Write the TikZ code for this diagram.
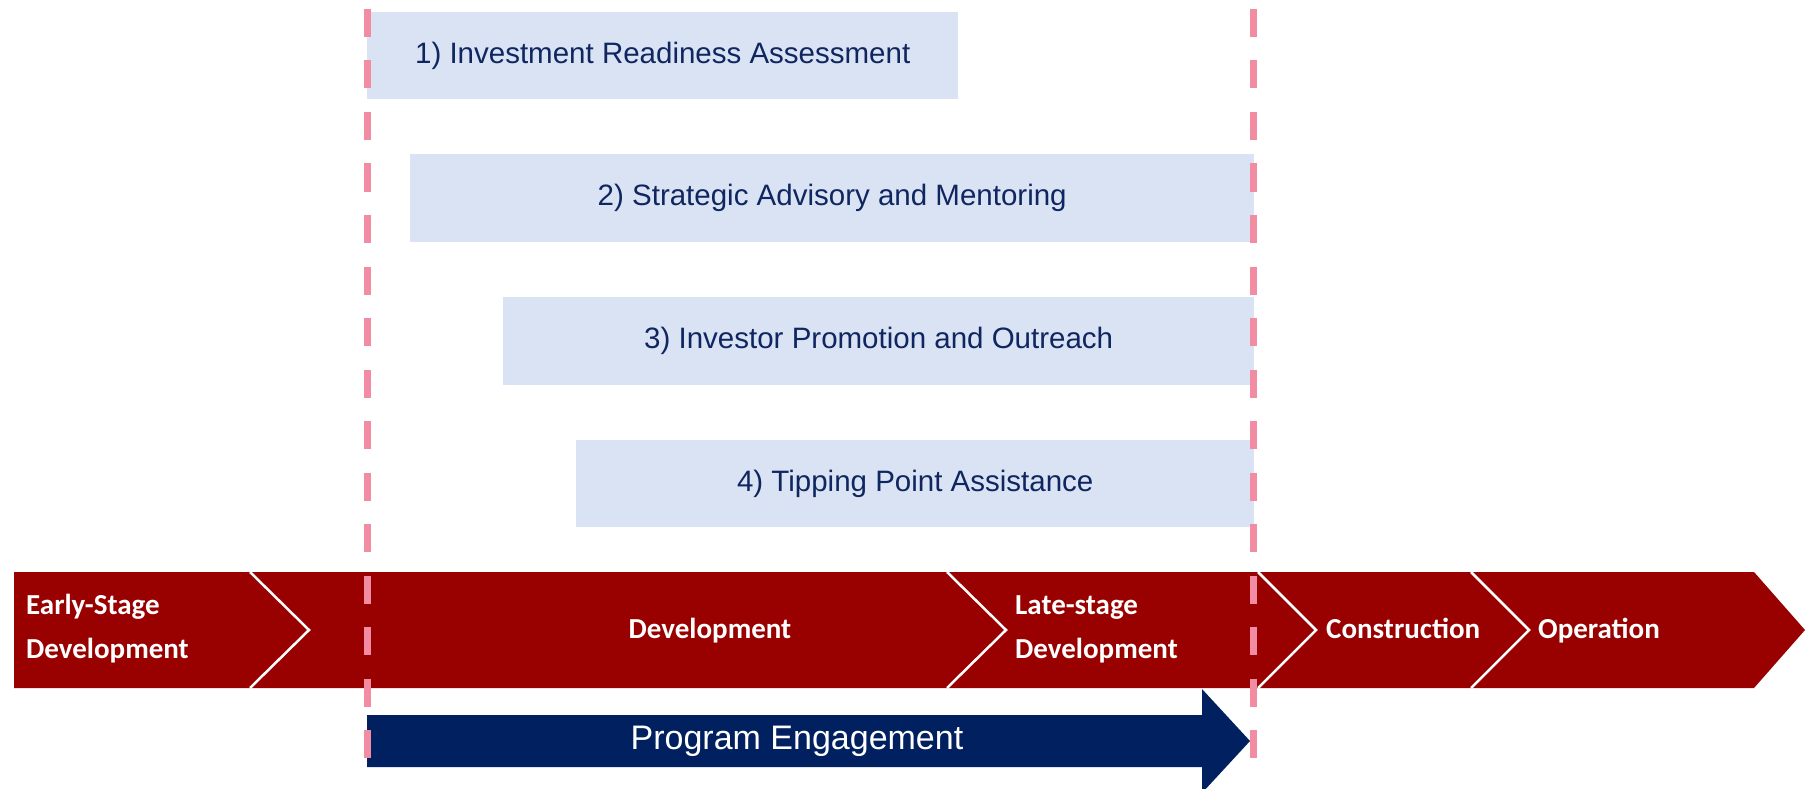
\documentclass[tikz,border=0pt]{standalone}
\usepackage{fontspec}
\setmainfont{Liberation Sans}
\newfontfamily\calib{Carlito}
\definecolor{barred}{RGB}{153,0,0}
\definecolor{boxfill}{RGB}{218,227,243}
\definecolor{boxtext}{RGB}{16,38,96}
\definecolor{navy}{RGB}{0,32,96}
\definecolor{pinkdash}{RGB}{242,140,163}
\begin{document}
\begin{tikzpicture}[x=1pt,y=-1pt,
 box/.style={fill=boxfill, anchor=north west, inner sep=0pt, minimum height=87.5pt, text=boxtext, font=\fontsize{29.5}{36}\selectfont},
 stagetext/.style={text=white, font=\calib\bfseries\fontsize{29}{44}\selectfont, align=left, inner sep=0pt, anchor=west},
 chevline/.style={draw=white, line width=2.5pt},
 guide/.style={draw=pinkdash, line width=7pt, dash pattern=on 28pt off 23.5pt}
]
\useasboundingbox (0,0) rectangle (1805,789);
% boxes
\node[box, minimum width=591pt] (b1) at (367,11.5) {1) Investment Readiness Assessment};
\node[box, minimum width=844pt] (b2) at (410,154) {2) Strategic Advisory and Mentoring};
\node[box, minimum width=751pt] (b3) at (503,297) {3) Investor Promotion and Outreach};
\node[box, minimum width=678pt] (b4) at (576,439.5) {4) Tipping Point Assistance};
% stage bar
\fill[barred] (14,572) -- (1754,572) -- (1805,630) -- (1754,688) -- (14,688) -- cycle;
\draw[chevline] (250,572) -- (309,630) -- (250,688);
\draw[chevline] (947,572) -- (1006,630) -- (947,688);
\draw[chevline] (1258,572) -- (1316,630) -- (1258,688);
\draw[chevline] (1471,572) -- (1529,630) -- (1471,688);
\node[stagetext] (s1) at (26,629) {Early-Stage\\Development};
\node[stagetext, anchor=base] (s2) at (710,638) {Development};
\node[stagetext] (s3) at (1015,629) {Late-stage\\Development};
\node[stagetext, anchor=base west] (s4) at (1326,638) {Construction};
\node[stagetext, anchor=base west] (s5) at (1538,638) {Operation};
% program engagement arrow
\fill[navy] (367,715) -- (1202,715) -- (1202,689) -- (1250,741) -- (1202,793) -- (1202,767) -- (367,767) -- cycle;
\node[text=white, font=\fontsize{34}{40}\selectfont, inner sep=0pt] (pe) at (797,741) {Program Engagement};
% guide lines
\draw[guide] (367,9) -- (367,760);
\draw[guide] (1253,9) -- (1253,760);
\end{tikzpicture}
\end{document}
